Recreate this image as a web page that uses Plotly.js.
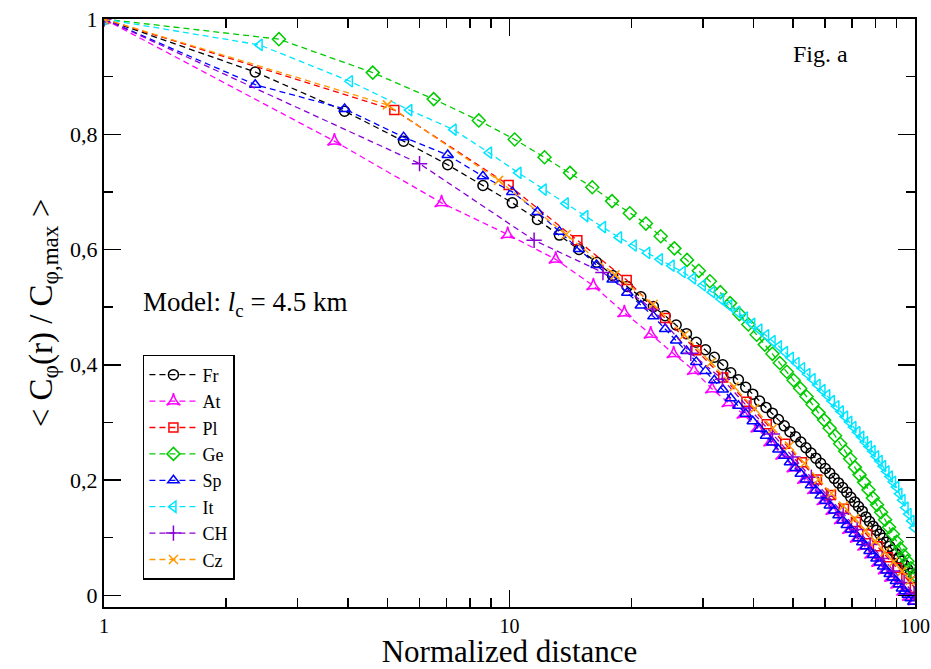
<!DOCTYPE html>
<html><head><meta charset="utf-8">
<script src="https://cdn.plot.ly/plotly-3.0.1.min.js"></script>
<style>html,body{margin:0;padding:0;background:#fff}</style>
</head><body><div id="chart" style="width:931px;height:669px"></div>
<script>
// ---- data ----
const seriesNames = ['Fr','At','Pl','Ge','Sp','It','CH','Cz'];

const frX = [1, 2.36, 3.92, 5.48, 7.04, 8.60, 10.16, 11.72, 13.28, 14.84, 16.40, 17.96, 19.52, 21.08, 22.64, 24.20, 25.76, 27.32, 28.88, 30.44, 32.00, 33.56, 35.12, 36.68, 38.24, 39.80, 41.36, 42.92, 44.48, 46.04, 47.60, 49.16, 50.72, 52.28, 53.84, 55.40, 56.96, 58.52, 60.08, 61.64, 63.20, 64.76, 66.32, 67.88, 69.44, 71.00, 72.56, 74.12, 75.68, 77.24, 78.80, 80.36, 81.92, 83.48, 85.04, 86.60, 88.16, 89.72, 91.28, 92.84, 94.40, 95.96, 97.52, 99.08];
const frY = [1, 0.908, 0.840, 0.788, 0.747, 0.711, 0.681, 0.652, 0.625, 0.600, 0.578, 0.555, 0.536, 0.518, 0.501, 0.485, 0.469, 0.454, 0.439, 0.426, 0.413, 0.400, 0.386, 0.374, 0.361, 0.349, 0.337, 0.326, 0.316, 0.305, 0.294, 0.284, 0.275, 0.266, 0.256, 0.247, 0.238, 0.229, 0.220, 0.212, 0.203, 0.195, 0.187, 0.179, 0.170, 0.162, 0.154, 0.146, 0.136, 0.128, 0.120, 0.113, 0.106, 0.099, 0.092, 0.085, 0.078, 0.072, 0.065, 0.059, 0.052, 0.045, 0.038, 0.031];

const atX = [1, 3.7, 6.8, 9.9, 13.0, 16.1, 19.2, 22.3, 25.4, 28.5, 31.6, 34.7, 37.8, 40.9, 44.0, 47.1, 50.2, 53.3, 56.4, 59.5, 62.6, 65.7, 68.8, 71.9, 75.0, 78.1, 81.2, 84.3, 87.4, 90.5, 93.6, 96.7, 99.8];
const atY = [1, 0.788, 0.681, 0.626, 0.583, 0.537, 0.490, 0.453, 0.419, 0.390, 0.358, 0.334, 0.314, 0.290, 0.266, 0.243, 0.221, 0.201, 0.183, 0.164, 0.147, 0.131, 0.114, 0.099, 0.085, 0.071, 0.057, 0.044, 0.031, 0.019, 0.007, -0.002, -0.010];

const plX = [1, 5.2, 9.95, 14.7, 19.45, 24.2, 28.9, 33.65, 38.4, 43.1, 47.85, 52.6, 57.3, 62.05, 66.8, 71.5, 76.25, 81.0, 85.7, 90.45, 95.2, 99.9];
const plY = [1, 0.842, 0.712, 0.616, 0.547, 0.481, 0.425, 0.378, 0.336, 0.297, 0.263, 0.231, 0.201, 0.174, 0.150, 0.127, 0.106, 0.085, 0.066, 0.048, 0.029, 0.013];

const geX = [1, 2.7, 4.6, 6.5, 8.4, 10.3, 12.2, 14.1, 16.0, 17.9, 19.8, 21.7, 23.6, 25.5, 27.4, 29.3, 31.2, 33.1, 35.0, 36.9, 38.8, 40.7, 42.6, 44.5, 46.4, 48.3, 50.2, 52.1, 54.0, 55.9, 57.8, 59.7, 61.6, 63.5, 65.4, 67.3, 69.2, 71.1, 73.0, 74.9, 76.8, 78.7, 80.6, 82.5, 84.4, 86.3, 88.2, 90.1, 92.0, 93.9, 95.8, 97.7, 99.6];
const geY = [1, 0.965, 0.907, 0.861, 0.824, 0.791, 0.760, 0.733, 0.708, 0.684, 0.663, 0.645, 0.623, 0.602, 0.582, 0.563, 0.545, 0.526, 0.507, 0.488, 0.470, 0.452, 0.435, 0.419, 0.403, 0.388, 0.373, 0.359, 0.345, 0.331, 0.317, 0.304, 0.290, 0.277, 0.263, 0.250, 0.237, 0.222, 0.209, 0.196, 0.183, 0.169, 0.157, 0.144, 0.131, 0.118, 0.106, 0.093, 0.081, 0.069, 0.059, 0.047, 0.036];

const spX = [1, 2.36, 3.92, 5.48, 7.04, 8.60, 10.16, 11.72, 13.28, 14.84, 16.40, 17.96, 19.52, 21.08, 22.64, 24.20, 25.76, 27.32, 28.88, 30.44, 32.00, 33.56, 35.12, 36.68, 38.24, 39.80, 41.36, 42.92, 44.48, 46.04, 47.60, 49.16, 50.72, 52.28, 53.84, 55.40, 56.96, 58.52, 60.08, 61.64, 63.20, 64.76, 66.32, 67.88, 69.44, 71.00, 72.56, 74.12, 75.68, 77.24, 78.80, 80.36, 81.92, 83.48, 85.04, 86.60, 88.16, 89.72, 91.28, 92.84, 94.40, 95.96, 97.52, 99.08];
const spY = [1, 0.886, 0.844, 0.795, 0.764, 0.727, 0.700, 0.665, 0.631, 0.601, 0.573, 0.548, 0.525, 0.503, 0.484, 0.462, 0.442, 0.424, 0.405, 0.389, 0.373, 0.357, 0.342, 0.329, 0.315, 0.302, 0.289, 0.277, 0.265, 0.253, 0.242, 0.231, 0.221, 0.211, 0.201, 0.191, 0.182, 0.173, 0.164, 0.156, 0.147, 0.139, 0.130, 0.122, 0.114, 0.107, 0.099, 0.092, 0.085, 0.077, 0.070, 0.064, 0.057, 0.050, 0.043, 0.037, 0.031, 0.025, 0.019, 0.012, 0.007, 0.001, -0.005, -0.011];

const itX = [1, 2.42, 4.04, 5.66, 7.28, 8.90, 10.52, 12.14, 13.76, 15.38, 17.00, 18.62, 20.24, 21.86, 23.48, 25.10, 26.72, 28.34, 29.96, 31.58, 33.20, 34.82, 36.44, 38.06, 39.68, 41.30, 42.92, 44.54, 46.16, 47.78, 49.40, 51.02, 52.64, 54.26, 55.88, 57.50, 59.12, 60.74, 62.36, 63.98, 65.60, 67.22, 68.84, 70.46, 72.08, 73.70, 75.32, 76.94, 78.56, 80.18, 81.80, 83.42, 85.04, 86.66, 88.28, 89.90, 91.52, 93.14, 94.76, 96.38, 98.00, 99.62];
const itY = [1, 0.955, 0.892, 0.842, 0.808, 0.768, 0.733, 0.704, 0.680, 0.658, 0.639, 0.621, 0.607, 0.594, 0.583, 0.572, 0.561, 0.550, 0.538, 0.526, 0.514, 0.503, 0.492, 0.482, 0.471, 0.461, 0.451, 0.441, 0.432, 0.422, 0.412, 0.403, 0.394, 0.384, 0.375, 0.365, 0.356, 0.347, 0.337, 0.328, 0.319, 0.310, 0.301, 0.292, 0.283, 0.275, 0.266, 0.258, 0.250, 0.241, 0.233, 0.224, 0.215, 0.206, 0.197, 0.188, 0.176, 0.165, 0.152, 0.141, 0.129, 0.117];

const chX = [1, 6.0, 11.5, 17.0, 22.5, 28.0, 33.5, 39.0, 44.5, 50.0, 55.5, 61.0, 66.5, 72.0, 77.5, 83.0, 88.5, 94.0, 99.5];
const chY = [1, 0.749, 0.616, 0.560, 0.497, 0.420, 0.375, 0.325, 0.280, 0.240, 0.205, 0.172, 0.142, 0.114, 0.088, 0.064, 0.042, 0.022, 0.003];

const czX = [1, 5.0, 9.4, 13.8, 18.2, 22.6, 27.0, 31.4, 35.8, 40.2, 44.6, 49.0, 53.4, 57.8, 62.2, 66.6, 71.0, 75.4, 79.8, 84.2, 88.6, 93.0, 97.4];
const czY = [1, 0.851, 0.720, 0.626, 0.556, 0.505, 0.452, 0.404, 0.362, 0.324, 0.290, 0.259, 0.229, 0.201, 0.177, 0.155, 0.133, 0.113, 0.094, 0.075, 0.058, 0.042, 0.026];

// ticks
const xTickVals = [1, 10, 100];
const xTickText = ['1', '10', '100'];
const xMinorVals = [2,3,4,5,6,7,8,9,20,30,40,50,60,70,80,90];
const yTickVals = [0, 0.2, 0.4, 0.6, 0.8, 1];
const yTickText = ['0', '0,2', '0,4', '0,6', '0,8', '1'];
const yMinorVals = [0.1, 0.3, 0.5, 0.7, 0.9];

// ---- styles ----
const xs = [frX, atX, plX, geX, spX, itX, chX, czX];
const ys = [frY, atY, plY, geY, spY, itY, chY, czY];
const colors = ['#000000', '#ff00ff', '#ff0000', '#00cc00', '#0000ff', '#00e5ff', '#8a00d4', '#ff9900'];
const symbols = ['circle-open', 'star-triangle-up-open', 'square-open', 'diamond-open', 'triangle-up-open', 'triangle-left-open', 'cross-thin-open', 'x-thin-open'];
const msizes = [10, 10, 9, 10, 10, 10, 11, 9];

const traces = seriesNames.map((n, i) => ({
  type: 'scatter', mode: 'lines+markers', name: n,
  x: xs[i], y: ys[i],
  line: {color: colors[i], width: 1.3, dash: '6px,4px'},
  marker: {symbol: symbols[i], size: msizes[i], color: colors[i], line: {color: colors[i], width: 1.5}}
}));

const serif = 'Liberation Serif';
const layout = {
  width: 931, height: 669,
  margin: {l: 104, r: 16, t: 19, b: 62},
  paper_bgcolor: '#fff', plot_bgcolor: '#fff',
  font: {family: serif, color: '#000'},
  showlegend: true,
  legend: {x: 0.048, y: 0.4286, xanchor: 'left', yanchor: 'top', bgcolor: '#fff',
           bordercolor: '#000', borderwidth: 1.5, font: {family: serif, size: 18, color: '#000'},
           tracegroupgap: 0, itemwidth: 48},
  xaxis: {
    type: 'log', range: [0, 2], showgrid: false, zeroline: false,
    showline: true, linecolor: '#000', linewidth: 2, mirror: 'ticks',
    ticks: 'inside', ticklen: 17, tickwidth: 1.5, tickcolor: '#000',
    tickmode: 'array', tickvals: xTickVals, ticktext: xTickText,
    tickfont: {family: serif, size: 20}, ticklabeloverflow: 'allow',
    minor: {tickmode: 'array', tickvals: xMinorVals, ticks: 'inside', ticklen: 9, tickwidth: 1.5, tickcolor: '#000', showgrid: false},
    title: {text: 'Normalized distance', font: {family: serif, size: 31}, standoff: 5}
  },
  yaxis: {
    range: [-0.0203, 1.0], showgrid: false, zeroline: false,
    showline: true, linecolor: '#000', linewidth: 2, mirror: 'ticks',
    ticks: 'inside', ticklen: 17, tickwidth: 1.5, tickcolor: '#000',
    tickmode: 'array', tickvals: yTickVals, ticktext: yTickText,
    tickfont: {family: serif, size: 22}, ticklabeloverflow: 'allow',
    minor: {tickmode: 'array', tickvals: yMinorVals, ticks: 'inside', ticklen: 9, tickwidth: 1.5, tickcolor: '#000', showgrid: false},
    title: {text: '&lt; C<sub>φ</sub>(r) / C<sub>φ,max</sub> &gt;', font: {family: serif, size: 33}, standoff: 8}
  },
  annotations: [
    {xref: 'paper', yref: 'paper', x: 0.884, y: 0.94, text: 'Fig. a', showarrow: false,
     font: {family: serif, size: 24}, xanchor: 'center', yanchor: 'middle'},
    {xref: 'paper', yref: 'paper', x: 0.046, y: 0.515, text: 'Model: <i>l</i><sub>c</sub> = 4.5 km', showarrow: false,
     font: {family: serif, size: 27}, xanchor: 'left', yanchor: 'middle'}
  ]
};

Plotly.newPlot('chart', traces, layout, {staticPlot: true});
</script></body></html>
